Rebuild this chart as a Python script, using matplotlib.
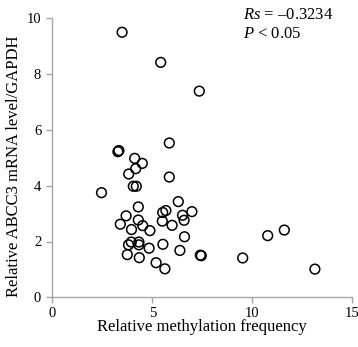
import matplotlib
matplotlib.use("Agg")
import matplotlib.pyplot as plt

x_vals = [3.49, 5.42, 7.35, 5.85, 3.28, 3.33, 4.12, 4.50, 4.17, 3.82, 5.85,
          4.05, 4.20, 2.46, 6.30, 4.30, 5.52, 5.68, 6.98, 6.51, 3.69, 6.59,
          4.30, 5.50, 3.40, 4.52, 5.99, 3.96, 4.88, 6.61, 3.95, 3.81, 4.33,
          4.33, 5.53, 4.84, 6.38, 3.75, 7.40, 7.45, 4.35, 5.19, 5.63, 9.52,
          10.77, 11.60, 13.13]
y_vals = [9.50, 8.42, 7.39, 5.53, 5.22, 5.26, 4.98, 4.80, 4.61, 4.42, 4.31,
          3.98, 3.98, 3.75, 3.43, 3.24, 3.04, 3.11, 3.07, 2.94, 2.92, 2.76,
          2.77, 2.73, 2.62, 2.57, 2.58, 2.43, 2.39, 2.17, 1.98, 1.88, 1.98,
          1.88, 1.90, 1.76, 1.68, 1.53, 1.51, 1.49, 1.42, 1.24, 1.02, 1.41,
          2.21, 2.41, 1.01]

x_ticks = [0, 5, 10, 15]
y_ticks = [0, 2, 4, 6, 8, 10]
x_label = "Relative methylation frequency"
y_label = "Relative ABCC3 mRNA level/GAPDH"
stat_line1 = "$\\mathit{Rs}$ = \u20130.3234"
stat_line2 = "$\\mathit{P}$ < 0.05"

plt.rcParams['font.family'] = ['Liberation Serif', 'DejaVu Serif']
plt.rcParams['mathtext.fontset'] = 'custom'
plt.rcParams['mathtext.it'] = 'Liberation Serif:italic'
plt.rcParams['mathtext.rm'] = 'Liberation Serif'

fig = plt.figure(figsize=(3.58, 3.47), dpi=100)
ax = fig.add_axes([52.3/358, (347-297.3)/347, 300/358, 279/347])

ax.scatter(x_vals, y_vals, s=7.0**2, facecolors='none', edgecolors='black',
           linewidths=1.1, clip_on=False, zorder=3)

ax.set_xlim(0, 15)
ax.set_ylim(0, 10)
ax.set_xticks(x_ticks)
ax.set_yticks(y_ticks)
for s in ['top', 'right']:
    ax.spines[s].set_visible(False)
for s in ['left', 'bottom']:
    ax.spines[s].set_color('#a6a6a6')
    ax.spines[s].set_linewidth(1.0)
ax.tick_params(direction='out', length=4, width=1.0, color='#a6a6a6',
               labelsize=10.5, labelcolor='black')
ax.tick_params(axis='x', pad=3)
ax.tick_params(axis='y', pad=4)

fig.text(0.5 * (52.3 + 352.3) / 358, 1 - 331 / 347, x_label, fontsize=12,
         va='baseline', ha='center')
fig.text(14 / 358, 1 - 166 / 347, y_label, fontsize=12, rotation=90,
         va='center', ha='center')

fig.text(243.3/358, 1 - 19/347, stat_line1, fontsize=12, va='baseline', ha='left')
fig.text(243.3/358, 1 - 37.7/347, stat_line2, fontsize=12, va='baseline', ha='left')

fig.savefig("out.png", dpi=100)
